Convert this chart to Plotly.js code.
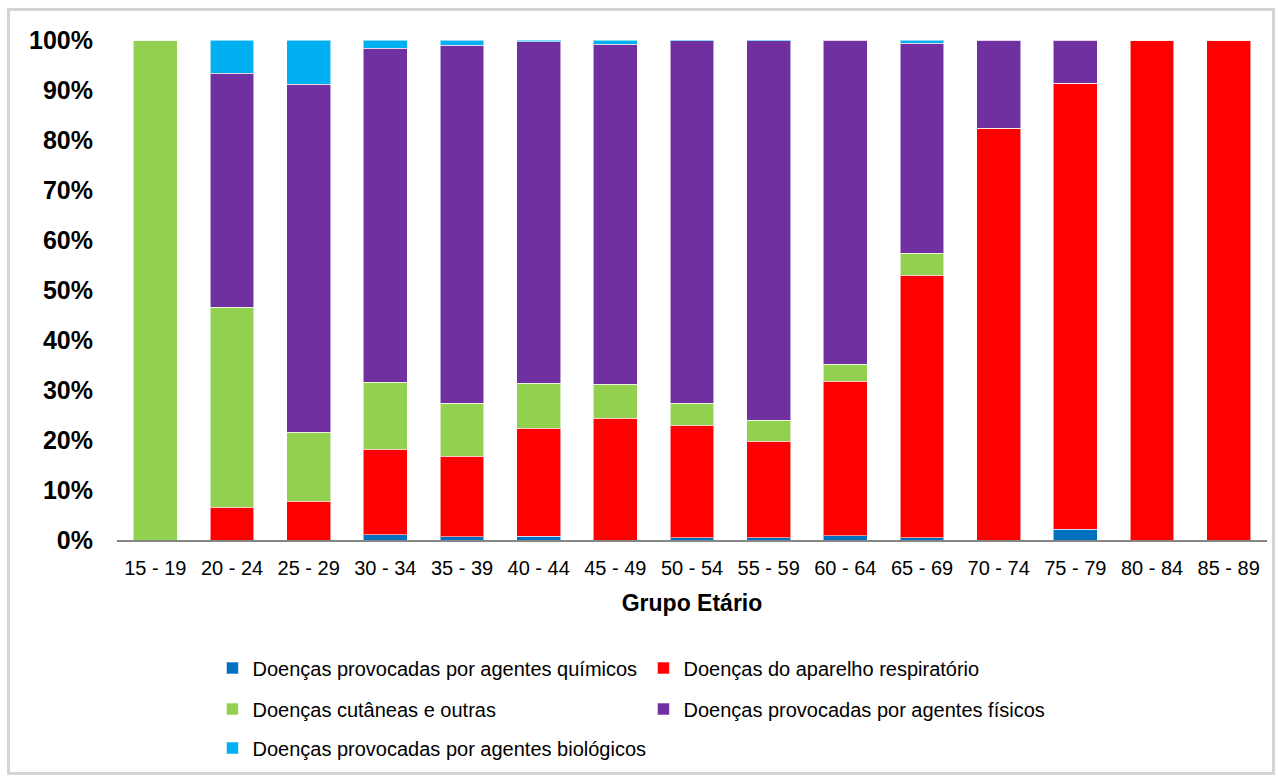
<!DOCTYPE html>
<html>
<head>
<meta charset="utf-8">
<script src="https://cdn.plot.ly/plotly-3.0.1.min.js"></script>
<style>
  html, body { margin: 0; padding: 0; background: #fff; }
  #chart { position: absolute; left: 0; top: 0; width: 1278px; height: 778px; }
  #frame { position: absolute; left: 7px; top: 8px; width: 1262px; height: 761px;
           border: 3px solid #d4d4d4; pointer-events: none; }
</style>
</head>
<body>
<div id="chart"></div>
<div id="frame"></div>
<script>
const ageGroups = ["15 - 19","20 - 24","25 - 29","30 - 34","35 - 39","40 - 44","45 - 49","50 - 54","55 - 59","60 - 64","65 - 69","70 - 74","75 - 79","80 - 84","85 - 89"];

const quimicos     = [0,   0,    0,    1.1,  0.7,  0.8,  0,    0.5,  0.5,  0.9,  0.5,  0,    2.2,  0,   0];
const respiratorio = [0,   6.6,  7.8,  17.1, 16.1, 21.6, 24.4, 22.5, 19.3, 30.9, 52.5, 82.4, 89.2, 100, 100];
const cutaneas     = [100, 40.0, 13.8, 13.4, 10.6, 9.0,  6.8,  4.4,  4.2,  3.4,  4.4,  0,    0,    0,   0];
const fisicos      = [0,   46.8, 69.6, 66.8, 71.6, 68.3, 68.0, 72.5, 75.9, 64.8, 42.0, 17.6, 8.6,  0,   0];
const biologicos   = [0,   6.6,  8.8,  1.6,  1.0,  0.3,  0.8,  0.1,  0.1,  0,    0.6,  0,    0,    0,   0];

const seriesNames = [
  "Doenças provocadas por agentes químicos",
  "Doenças do aparelho respiratório",
  "Doenças cutâneas e outras",
  "Doenças provocadas por agentes físicos",
  "Doenças provocadas por agentes biológicos"
];
const seriesValues = [quimicos, respiratorio, cutaneas, fisicos, biologicos];
const seriesColors = ["#0070C0", "#FF0000", "#92D050", "#7030A0", "#00B0F0"];
const seriesLegend = ["legend", "legend", "legend2", "legend2", "legend3"];

const traces = seriesNames.map((name, i) => ({
  type: "bar",
  name: name,
  x: ageGroups,
  y: seriesValues[i],
  marker: { color: seriesColors[i], line: { color: "rgba(255,255,255,0.55)", width: 1 } },
  legend: seriesLegend[i],
  hoverinfo: "x+y+name"
}));

const legendFont = { family: "Liberation Sans, Arial, sans-serif", size: 20, color: "#000" };
const legendBase = {
  orientation: "h", xanchor: "left", yanchor: "middle", traceorder: "normal",
  x: 0.083, font: legendFont, entrywidth: 386, entrywidthmode: "pixels",
  bgcolor: "rgba(0,0,0,0)", itemclick: false, itemdoubleclick: false
};

const layout = {
  width: 1278, height: 778,
  margin: { l: 117, r: 11, t: 40, b: 238 },
  paper_bgcolor: "#fff", plot_bgcolor: "#fff",
  barmode: "stack",
  bargap: 0.43,
  showlegend: true,
  xaxis: {
    type: "category",
    showgrid: false,
    showline: true, linecolor: "#868686", linewidth: 2,
    ticks: "",
    ticklabelstandoff: 9,
    tickfont: { family: "Liberation Sans, Arial, sans-serif", size: 20, color: "#000" },
    title: { text: "<b>Grupo Etário</b>", font: { family: "Liberation Sans, Arial, sans-serif", size: 23, color: "#000" }, standoff: 17 }
  },
  yaxis: {
    range: [0, 100],
    dtick: 10,
    ticksuffix: "%",
    showgrid: false, zeroline: false, showline: false,
    ticks: "",
    ticklabelstandoff: 23,
    tickfont: { family: "Liberation Sans, Arial, sans-serif", size: 25, color: "#000", weight: "bold" }
  },
  legend:  Object.assign({}, legendBase, { y: -0.256 }),
  legend2: Object.assign({}, legendBase, { y: -0.338 }),
  legend3: { orientation: "h", xanchor: "left", yanchor: "middle", traceorder: "normal",
             x: 0.083, y: -0.416, font: legendFont, bgcolor: "rgba(0,0,0,0)",
             itemclick: false, itemdoubleclick: false }
};

Plotly.newPlot("chart", traces, layout, { displayModeBar: false });
</script>
</body>
</html>
